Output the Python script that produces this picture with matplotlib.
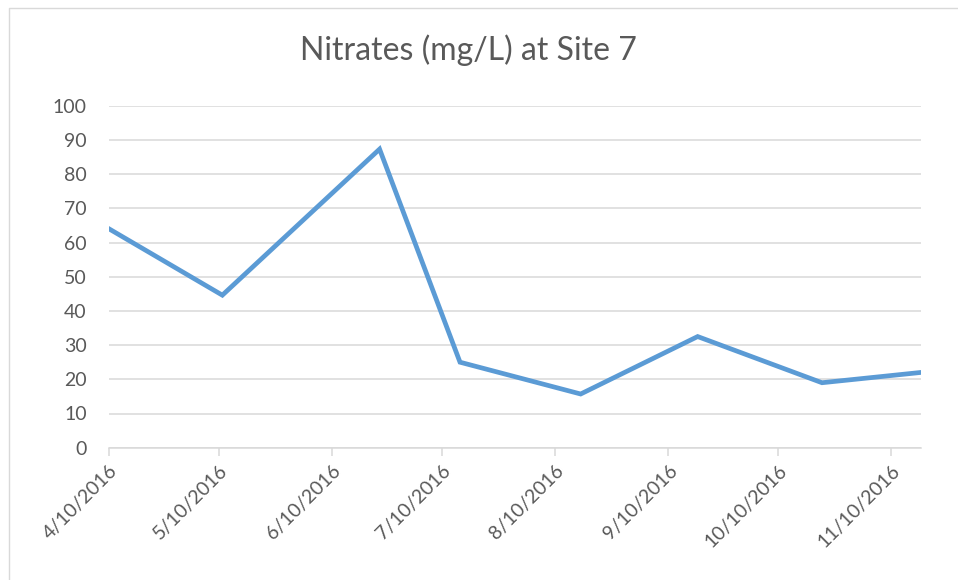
import matplotlib.pyplot as plt
import matplotlib.dates as mdates
from matplotlib.lines import Line2D
import pandas as pd

sample_dates = ['2016-04-10', '2016-05-11', '2016-06-23', '2016-07-15',
                '2016-08-17', '2016-09-18', '2016-10-22', '2016-11-18']
nitrates = [64, 44.6, 87.3, 25, 15.7, 32.5, 19, 22]
y_ticks = [0, 10, 20, 30, 40, 50, 60, 70, 80, 90, 100]

dates = pd.to_datetime(sample_dates)

plt.rcParams['font.family'] = ['Lato', 'DejaVu Sans']

fig = plt.figure(figsize=(9.58, 5.8), dpi=100)
ax = fig.add_axes([109 / 958, 1 - 447.7 / 580, (920.7 - 109) / 958, (447.7 - 105.7) / 580])

# chart border: only left and top edges show in the crop
fig.lines.append(Line2D([8.5 / 958, 8.5 / 958, 1.0], [0.0, 1 - 7.5 / 580, 1 - 7.5 / 580],
                        transform=fig.transFigure, color='#D9D9D9', linewidth=1.0))

ax.plot(dates, nitrates, color='#5B9BD5', linewidth=3.4, solid_joinstyle='miter', zorder=3)

ax.set_xlim(dates[0], dates[-1])
ax.set_ylim(0, 100)
ax.set_yticks(y_ticks)
ax.yaxis.grid(True, color='#D9D9D9', linewidth=1.1)
ax.set_axisbelow(True)

ax.xaxis.set_major_locator(mdates.MonthLocator(bymonthday=10))
ax.xaxis.set_major_formatter(plt.FuncFormatter(
    lambda v, pos: '{d.month}/{d.day}/{d.year}'.format(d=mdates.num2date(v))))

for side in ['top', 'right', 'left']:
    ax.spines[side].set_visible(False)
ax.spines['bottom'].set_color('#D9D9D9')
ax.spines['bottom'].set_linewidth(1.1)

ax.tick_params(axis='y', length=0, pad=16, labelsize=14, labelcolor='#595959')
ax.tick_params(axis='x', length=6, width=1.1, color='#D9D9D9', pad=4,
               labelsize=14, labelcolor='#595959')
for lab in ax.get_xticklabels():
    lab.set_rotation(45)
    lab.set_ha('right')
    lab.set_rotation_mode('anchor')

fig.text(468 / 958, 1 - 50 / 580, 'Nitrates (mg/L) at Site 7', ha='center', va='center',
         fontsize=23, color='#595959')

fig.savefig('out.png', dpi=100)
